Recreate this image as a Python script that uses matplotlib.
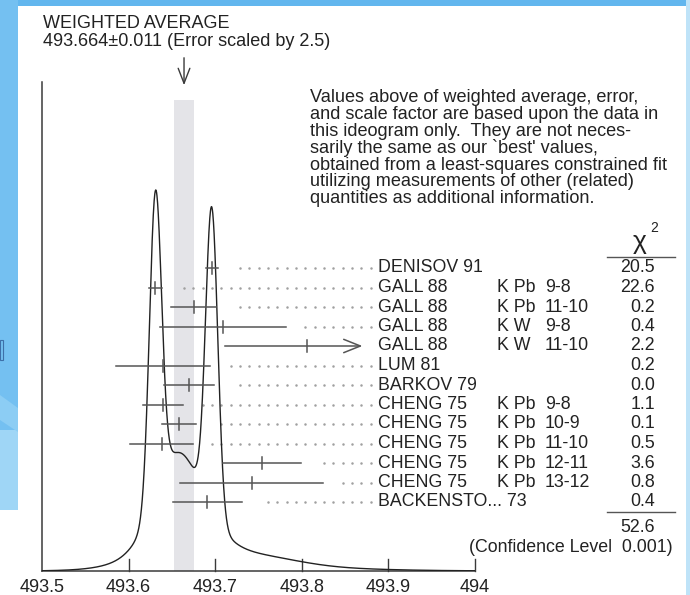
import matplotlib
matplotlib.use("Agg")
import matplotlib.pyplot as plt
import numpy as np
from matplotlib.patches import Rectangle, Polygon

plt.rcParams["font.family"] = ["Liberation Sans", "DejaVu Sans"]

names = ["DENISOV 91", "GALL 88", "GALL 88", "GALL 88", "GALL 88", "LUM 81",
         "BARKOV 79", "CHENG 75", "CHENG 75", "CHENG 75", "CHENG 75",
         "CHENG 75", "BACKENSTO... 73"]
targets = ["", "K Pb", "K Pb", "K W", "K W", "", "", "K Pb", "K Pb", "K Pb",
           "K Pb", "K Pb", ""]
transitions = ["", "9-8", "11-10", "9-8", "11-10", "", "", "9-8", "10-9",
               "11-10", "12-11", "13-12", ""]
values = [493.696, 493.631, 493.675, 493.709, 493.806, 493.640, 493.670,
          493.640, 493.658, 493.638, 493.754, 493.742, 493.691]
errors = [0.007, 0.007, 0.026, 0.073, 0.095, 0.054, 0.029, 0.023, 0.020,
          0.036, 0.045, 0.083, 0.040]
chi2 = [20.5, 22.6, 0.2, 0.4, 2.2, 0.2, 0.0, 1.1, 0.1, 0.5, 3.6, 0.8, 0.4]
chi2_total = 52.6
conf_level = 0.001
avg, avg_err, scale = 493.664, 0.011, 2.5
xticks = [493.5, 493.6, 493.7, 493.8, 493.9, 494.0]
xtick_labels = ["493.5", "493.6", "493.7", "493.8", "493.9", "494"]

W, H = 690, 595
fig = plt.figure(figsize=(W / 100, H / 100), dpi=100)
fig.patch.set_facecolor("white")


def fx(px):
    return px / W


def fy(py):
    return 1 - py / H


# slide background around the figure
for x0, y0, w, h, c in [(0, 0, W, 6, "#62b6ee"), (0, 0, 18, 510, "#74c0f1"),
                        (0, 430, 18, 80, "#9fd6f6"), (686, 0, 4, H, "#bfe3f8")]:
    fig.patches.append(Rectangle((fx(x0), fy(y0 + h)), w / W, h / H,
                                 transform=fig.transFigure, color=c, lw=0))
fig.patches.append(Polygon([(fx(0), fy(395)), (fx(18), fy(408)), (fx(18), fy(432)),
                            (fx(0), fy(420))], closed=True,
                           transform=fig.transFigure, color="#8ccdf4", lw=0))
fig.patches.append(Rectangle((fx(0), fy(360)), 3 / W, 20 / H, fill=False,
                             ec="#3d6fa8", lw=0.8, transform=fig.transFigure))

base_px, top_px = 571, 82
ax = fig.add_axes([fx(42), fy(base_px), 433 / W, (base_px - top_px) / H])
ax.set_xlim(493.5, 494.0)
ax.set_ylim(0, base_px - top_px)
ax.axis("off")

ink = "#3a3a3a"

# axis frame: left line, baseline and inward ticks
ax.plot([493.5, 493.5], [0, base_px - top_px], color=ink, lw=1.1, clip_on=False)
ax.plot([493.5, 494.0], [0, 0], color=ink, lw=1.1, clip_on=False)
for t in xticks[1:]:
    ax.plot([t, t], [0, 12], color=ink, lw=1.0, clip_on=False)
for t, lab in zip(xticks, xtick_labels):
    ax.text(t, -(587 - base_px), lab, ha="center", va="center", fontsize=13,
            color="#222")

# weighted average band and arrow
ax.add_patch(Rectangle((avg - avg_err, 0), 2 * avg_err, base_px - 100,
                       color="#e4e4e8", lw=0, zorder=0))
ax.annotate("", xy=(avg, base_px - 88), xytext=(avg, base_px - 55),
            arrowprops=dict(arrowstyle="->, head_length=0.9, head_width=0.35",
                            color=ink, lw=1.0, mutation_scale=12),
            annotation_clip=False)

# ideogram: each measurement a gaussian of area 1/sigma
v = np.array(values)
e = np.array(errors)
xs = np.linspace(493.5, 494.0, 2001)
curve = (np.exp(-0.5 * ((xs[:, None] - v) / e) ** 2) / e ** 2).sum(axis=1)
curve = curve / curve.max() * (base_px - 190)
ax.plot(xs, curve, color="#222", lw=1.0, zorder=3)

# measurement rows
row_px = 268 + 19.5 * np.arange(len(names))
x_clip = 493.87
x_label_end = 493.885
dot_step = 9.33 / 866
dot_grid = np.arange(493.5 + (240 - 42) / 866 - 30 * dot_step, x_label_end, dot_step)
for i, (val, err) in enumerate(zip(values, errors)):
    y = base_px - row_px[i]
    lo, hi = val - err, val + err
    if hi > x_clip:
        ax.annotate("", xy=(x_clip, y), xytext=(lo, y),
                    arrowprops=dict(arrowstyle="->, head_length=1.0, head_width=0.4",
                                    color="#555", lw=1.1, mutation_scale=12,
                                    shrinkA=0, shrinkB=0),
                    annotation_clip=False)
    else:
        ax.plot([lo, hi], [y, y], color="#555", lw=1.1, zorder=4)
        dots = dot_grid[(dot_grid > hi + 0.02) & (dot_grid > 493.5)]
        ax.plot(dots, np.full(len(dots), y), ls="none", marker="o", ms=1.8,
                mec="none", mfc="#a0a0a0", clip_on=False)
    ax.plot([val, val], [y - 6, y + 6], color="#555", lw=1.1, zorder=4)

    fig.text(fx(378), fy(row_px[i]), names[i], ha="left", va="center",
             fontsize=12.8, color="#222")
    fig.text(fx(497), fy(row_px[i]), targets[i], ha="left", va="center",
             fontsize=12.8, color="#222")
    fig.text(fx(545), fy(row_px[i]), transitions[i], ha="left", va="center",
             fontsize=12.8, color="#222")
    fig.text(fx(655), fy(row_px[i]), f"{chi2[i]:.1f}", ha="right", va="center",
             fontsize=12.8, color="#222")

# chi-square column header and total
fig.text(fx(640), fy(249), "\u03c7", ha="center", va="baseline", fontsize=19,
         color="#222")
fig.text(fx(650), fy(232), "2", ha="left", va="baseline", fontsize=10,
         color="#222")
for ypx in (257, 512):
    fig.add_artist(plt.Line2D([fx(607), fx(675)], [fy(ypx), fy(ypx)], color="#555",
                              lw=1.0, transform=fig.transFigure))
fig.text(fx(655), fy(527), f"{chi2_total:.1f}", ha="right", va="center",
         fontsize=12.8, color="#222")
fig.text(fx(673), fy(547), f"(Confidence Level  {conf_level:.3f})", ha="right",
         va="center", fontsize=12.8, color="#222")

# header text
fig.text(fx(43), fy(23), "WEIGHTED AVERAGE", ha="left", va="center",
         fontsize=13, color="#222")
fig.text(fx(43), fy(42), f"{avg:.3f}\u00b1{avg_err:.3f} (Error scaled by {scale})",
         ha="left", va="center", fontsize=13, color="#222")

note = ["Values above of weighted average, error,",
        "and scale factor are based upon the data in",
        "this ideogram only.  They are not neces-",
        "sarily the same as our `best' values,",
        "obtained from a least-squares constrained fit",
        "utilizing measurements of other (related)",
        "quantities as additional information."]
for k, line in enumerate(note):
    fig.text(fx(310), fy(98 + 16.8 * k), line, ha="left", va="center",
             fontsize=13.1, color="#222")

fig.savefig("out.png", dpi=100)
